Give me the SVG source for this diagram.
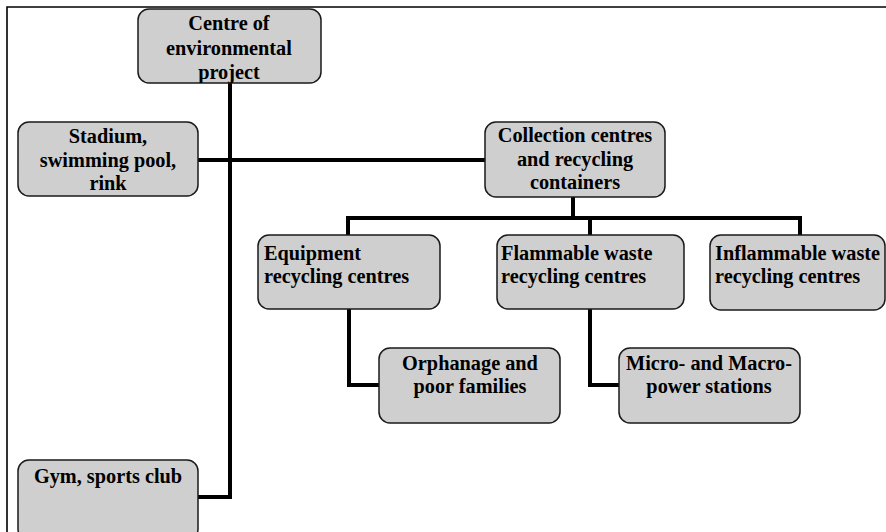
<svg xmlns="http://www.w3.org/2000/svg" width="886" height="532" viewBox="0 0 886 532">
<defs>
<style>
.box{fill:#cfcfcf;stroke:#1a1a1a;stroke-width:1.5}
.t{font-family:"Liberation Serif","Times New Roman",serif;font-weight:bold;font-size:20.3px;fill:#000}
.c{text-anchor:middle}
.conn{fill:none;stroke:#000;stroke-width:4}
.frame{fill:none;stroke:#000;stroke-width:1.6}
</style>
<clipPath id="clipCentre"><rect x="138" y="9" width="183" height="74" rx="11"/></clipPath>
</defs>
<rect width="886" height="532" fill="#fff"/>
<path class="frame" d="M7,532 V7 H886"/>
<g id="connectors">
<path class="conn" d="M230,83 V497 H198"/>
<path class="conn" d="M198,160 H485"/>
<path class="conn" d="M573,197 V218"/>
<path class="conn" d="M348,235 V218 H800 V235"/>
<path class="conn" d="M590,218 V235"/>
<path class="conn" d="M349,309 V385 H379"/>
<path class="conn" d="M590,309 V385 H619"/>
</g>
<g id="centre">
<rect class="box" x="138" y="9" width="183" height="74" rx="11"/>
<g clip-path="url(#clipCentre)">
<text class="t c" x="229" y="30">Centre of</text>
<text class="t c" x="229" y="55">environmental</text>
<text class="t c" x="229" y="79">project</text>
</g>
</g>
<g id="stadium">
<rect class="box" x="18" y="122" width="180" height="74" rx="11"/>
<text class="t c" x="108" y="143">Stadium,</text>
<text class="t c" x="108" y="167">swimming pool,</text>
<text class="t c" x="108" y="190">rink</text>
</g>
<g id="collection">
<rect class="box" x="485" y="122" width="180" height="75" rx="11"/>
<text class="t c" x="575" y="142">Collection centres</text>
<text class="t c" x="575" y="166">and recycling</text>
<text class="t c" x="575" y="189">containers</text>
</g>
<g id="equipment">
<rect class="box" x="258" y="235" width="182" height="74" rx="11"/>
<text class="t" x="264" y="260">Equipment</text>
<text class="t" x="264" y="283">recycling centres</text>
</g>
<g id="flammable">
<rect class="box" x="497" y="235" width="187" height="74" rx="11"/>
<text class="t" x="501" y="260">Flammable waste</text>
<text class="t" x="501" y="283">recycling centres</text>
</g>
<g id="inflammable">
<rect class="box" x="710" y="235" width="175" height="75" rx="11"/>
<text class="t" x="715" y="260">Inflammable waste</text>
<text class="t" x="715" y="283">recycling centres</text>
</g>
<g id="orphanage">
<rect class="box" x="379" y="348" width="181" height="75" rx="11"/>
<text class="t c" x="470" y="370">Orphanage and</text>
<text class="t c" x="470" y="393">poor families</text>
</g>
<g id="micro">
<rect class="box" x="619" y="348" width="181" height="75" rx="11"/>
<text class="t c" x="709" y="370">Micro- and Macro-</text>
<text class="t c" x="709" y="393">power stations</text>
</g>
<g id="gym">
<rect class="box" x="18" y="460" width="180" height="80" rx="11"/>
<text class="t c" x="108" y="483">Gym, sports club</text>
</g>
</svg>
